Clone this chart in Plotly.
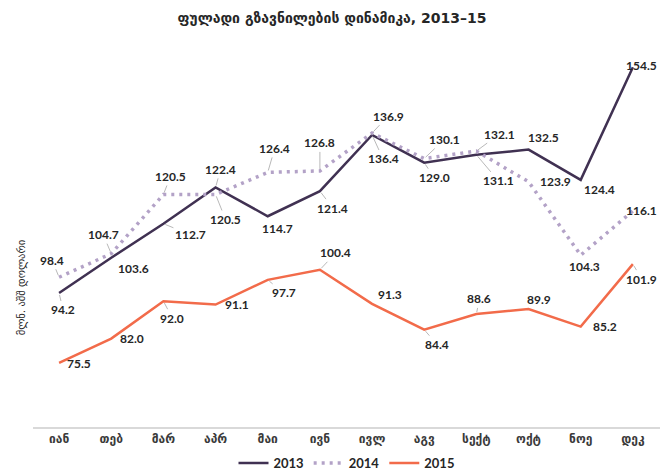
import plotly.graph_objects as go

months = ['იან', 'თებ', 'მარ', 'აპრ', 'მაი', 'ივნ', 'ივლ', 'აგვ', 'სექტ', 'ოქტ', 'ნოე', 'დეკ']

remittances = {
    '2013': [94.2, 103.6, 112.7, 122.4, 114.7, 121.4, 136.4, 129.0, 131.1, 132.5, 124.4, 154.5],
    '2014': [98.4, 104.7, 120.5, 120.5, 126.4, 126.8, 136.9, 130.1, 132.1, 123.9, 104.3, 116.1],
    '2015': [75.5, 82.0, 92.0, 91.1, 97.7, 100.4, 91.3, 84.4, 88.6, 89.9, 85.2, 101.9],
}

lineStyles = {
    '2013': dict(color='#403152', width=2.5),
    '2014': dict(color='#B3A2C7', width=3.5, dash='3px,5px'),
    '2015': dict(color='#F26B4A', width=2.5),
}

# label position relative to the point, in pixels: (dx, dy, leader line)
labelOffsets = {
    '2013': [(4, 17, True), (22, 11, False), (27, 11, True), (5, -18, True),
             (10, 12, False), (13, 17, True), (11, 24, True), (10, 15, True),
             (22, 26, True), (15, -12, False), (19, 10, False), (9, -2, False)],
    '2014': [(-7, -17, True), (-8, -19, True), (7, -18, True), (10, 25, True),
             (7, -24, True), (0, -28, True), (16, -17, True), (20, -19, True),
             (23, -17, True), (27, 0, False), (4, 11, False), (9, 0, False)],
    '2015': [(20, 1, False), (21, 0, False), (9, 17, True), (21, 0, False),
             (16, 13, True), (16, -17, True), (18, -9, False), (13, 15, True),
             (3, -15, True), (10, -10, False), (24, 0, False), (9, 15, True)],
}

def getLabels(year):
    annotations = []
    for i, value in enumerate(remittances[year]):
        dx, dy, leader = labelOffsets[year][i]
        annotations.append(go.layout.Annotation(
            x = months[i],
            y = value,
            ax = dx,
            ay = dy,
            text = '%.1f' % value,
            showarrow = True,
            arrowhead=0,
            arrowwidth=0.8,
            arrowcolor='#A6A6A6' if leader else 'rgba(0,0,0,0)',
            standoff=2,
            font=dict(family='Lato', size=12, color='#262626', weight='bold'),
        ))
    return annotations

def createFigure():
    fig = go.Figure()
    annotations = []
    for year in remittances:
        fig.add_trace(go.Scatter(x = months,
                                 y = remittances[year],
                                 mode='lines',
                                 name=year,
                                 line=lineStyles[year],
                                 ))
        annotations += getLabels(year)

    annotations.append(go.layout.Annotation(
        x = -0.032,
        y = 0.363,
        xref='paper',
        yref='paper',
        text = 'მლნ. აშშ დოლარი',
        textangle=-90,
        showarrow = False,
        font=dict(family='DejaVu Sans', size=10.5, color='#262626'),
    ))

    fig.update_layout(template = 'simple_white',
                      width=660,
                      height=470,
                      annotations=annotations,
                      title=dict(text='ფულადი გზავნილების დინამიკა, 2013–15',
                                 x=0.503, y=0.962,
                                 xanchor='center', yanchor='middle',
                                 font=dict(family='DejaVu Sans', size=14,
                                           color='#262626', weight='bold')),
                      legend=dict(orientation='h',
                                  x=0.5, xanchor='center',
                                  y=0.015, yanchor='middle',
                                  yref='container',
                                  itemwidth=30,
                                  font=dict(family='Lato', size=13,
                                            color='#262626', weight='bold')),
                      margin=dict(
                          l=33,
                          r=0,
                          b=43,
                          t=41,
                          pad=0
                      ))
    fig.update_xaxes(
        range=[-0.5, 11.52],
        automargin=False,
        showline=True,
        linecolor='#D9D9D9',
        linewidth=1.5,
        ticks='',
        showgrid=False,
        tickfont=dict(family='DejaVu Sans', size=12, color='#3A3A3A', weight='bold'),
    )
    fig.update_yaxes(
        range=[58.4, 161.5],
        visible=False,
    )

    return fig

fig = createFigure()
# drop the page's default body margin so the figure fills the window
fig.write_html("out.html",
               config={'displayModeBar': False},
               post_script="document.body.style.margin = '0';")
